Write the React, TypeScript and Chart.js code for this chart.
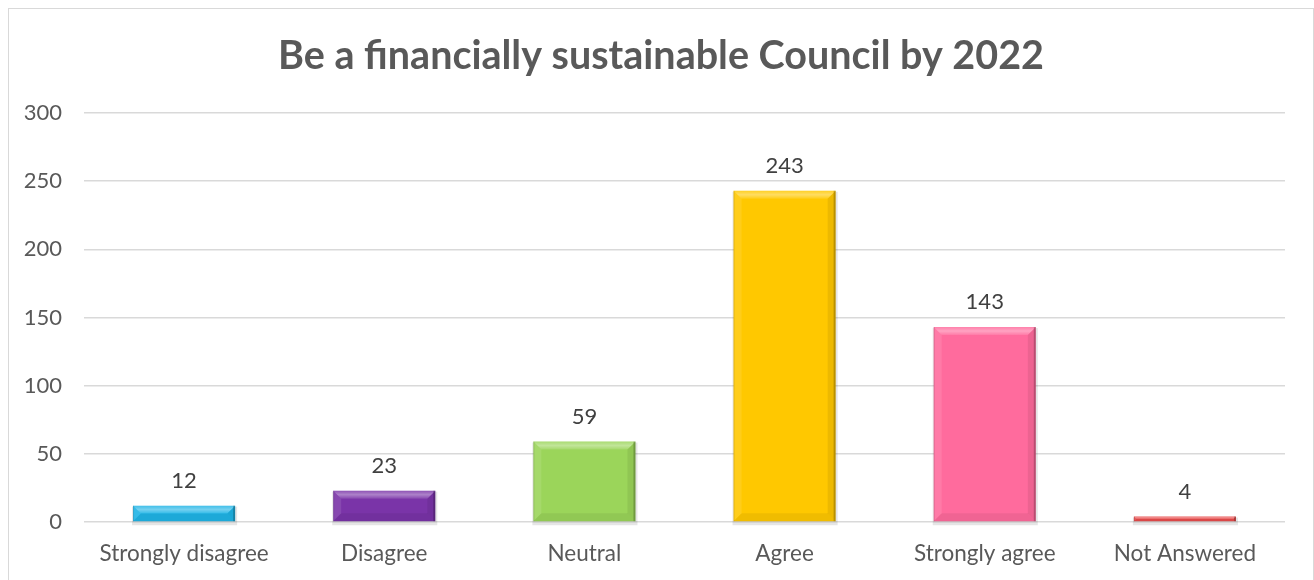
import React, { useEffect, useRef } from "react";
import { Chart, registerables } from "chart.js";

Chart.register(...registerables);

const chartTitle = "Be a financially sustainable Council by 2022";
const categories = ["Strongly disagree", "Disagree", "Neutral", "Agree", "Strongly agree", "Not Answered"];
const responses = [12, 23, 59, 243, 143, 4];
const barColors = ["#1FB4E6", "#7A34A8", "#9BD55A", "#FFC800", "#FF6B9D", "#E84C4C"];
const yMin = 0;
const yMax = 300;
const yStep = 50;

const FONT = "Lato, 'Open Sans', sans-serif";
const TEXT = "#595959";

const titlePlugin = {
  id: "centeredTitle",
  afterDraw(chart: any) {
    const ctx = chart.ctx;
    ctx.save();
    ctx.font = `bold 39.5px ${FONT}`;
    ctx.fillStyle = TEXT;
    ctx.textAlign = "center";
    ctx.textBaseline = "middle";
    ctx.fillText(chartTitle, chart.width / 2, 47.5);
    ctx.restore();
  },
};

const shadowPlugin = {
  id: "barShadow",
  beforeDatasetsDraw(chart: any) {
    const ctx = chart.ctx;
    const meta = chart.getDatasetMeta(0);
    ctx.save();
    meta.data.forEach((el: any) => {
      const { x, y, base, width } = el.getProps(["x", "y", "base", "width"], true);
      const l = x - width / 2;
      ctx.fillStyle = "rgba(0,0,0,0.10)";
      ctx.fillRect(l - 1, y + 1, width + 3, base - y + 3);
    });
    ctx.restore();
  },
};

const bevelPlugin = {
  id: "bevel",
  afterDatasetsDraw(chart: any) {
    const ctx = chart.ctx;
    const meta = chart.getDatasetMeta(0);
    ctx.save();
    meta.data.forEach((el: any) => {
      const { x, y, base, width } = el.getProps(["x", "y", "base", "width"], true);
      const l = x - width / 2;
      const r = x + width / 2;
      const t = y;
      const b = base;
      const h = b - t;
      const bv = Math.min(8, h / 2, width / 2);
      const g = ctx.createLinearGradient(0, t, 0, t + bv);
      g.addColorStop(0, "rgba(255,255,255,0.15)");
      g.addColorStop(0.5, "rgba(255,255,255,0.38)");
      g.addColorStop(1, "rgba(255,255,255,0.1)");
      ctx.fillStyle = g;
      ctx.beginPath();
      ctx.moveTo(l, t);
      ctx.lineTo(r, t);
      ctx.lineTo(r - bv, t + bv);
      ctx.lineTo(l + bv, t + bv);
      ctx.closePath();
      ctx.fill();
      ctx.fillStyle = "rgba(255,255,255,0.10)";
      ctx.beginPath();
      ctx.moveTo(l, t);
      ctx.lineTo(l + bv, t + bv);
      ctx.lineTo(l + bv, b - bv);
      ctx.lineTo(l, b);
      ctx.closePath();
      ctx.fill();
      ctx.fillStyle = "rgba(0,0,0,0.07)";
      ctx.beginPath();
      ctx.moveTo(r, t);
      ctx.lineTo(r, b);
      ctx.lineTo(r - bv, b - bv);
      ctx.lineTo(r - bv, t + bv);
      ctx.closePath();
      ctx.fill();
      ctx.fillStyle = "rgba(0,0,0,0.06)";
      ctx.beginPath();
      ctx.moveTo(l, b);
      ctx.lineTo(r, b);
      ctx.lineTo(r - bv, b - bv);
      ctx.lineTo(l + bv, b - bv);
      ctx.closePath();
      ctx.fill();
      ctx.fillStyle = "rgba(0,0,0,0.22)";
      ctx.fillRect(r - 2, t, 2, h);
      ctx.fillStyle = "rgba(0,0,0,0.12)";
      ctx.fillRect(l, t, 1, h);
    });
    ctx.restore();
  },
};

const valueLabelPlugin = {
  id: "valueLabels",
  afterDatasetsDraw(chart: any) {
    const ctx = chart.ctx;
    const meta = chart.getDatasetMeta(0);
    const data = chart.data.datasets[0].data;
    ctx.save();
    ctx.font = `22px ${FONT}`;
    ctx.fillStyle = "#404040";
    ctx.textAlign = "center";
    ctx.textBaseline = "alphabetic";
    meta.data.forEach((el: any, i: number) => {
      const { x, y } = el.getProps(["x", "y"], true);
      ctx.fillText(String(data[i]), x, y - 18);
    });
    ctx.restore();
  },
};

export default function App() {
  const canvasRef = useRef<HTMLCanvasElement | null>(null);

  useEffect(() => {
    if (!canvasRef.current) return;
    const chart = new Chart(canvasRef.current, {
      type: "bar",
      data: {
        labels: categories,
        datasets: [
          {
            label: "Responses",
            data: responses,
            backgroundColor: barColors,
            borderWidth: 0,
            barPercentage: 0.51,
            categoryPercentage: 1,
          },
        ],
      },
      options: {
        animation: false,
        responsive: true,
        maintainAspectRatio: false,
        layout: { padding: { left: 0, right: 28, top: 104, bottom: 0 } },
        plugins: {
          legend: { display: false },
          tooltip: { enabled: false },
          title: { display: false },
        },
        scales: {
          x: {
            grid: { display: false, drawTicks: false },
            border: { display: false },
            ticks: {
              color: TEXT,
              font: { family: FONT, size: 22.5 },
              padding: 18,
              maxRotation: 0,
              autoSkip: false,
            },
            afterFit: (scale: any) => {
              scale.height = 58;
            },
          },
          y: {
            min: yMin,
            max: yMax,
            grid: { color: "#D9D9D9", lineWidth: 1.5, drawTicks: false },
            border: { display: false },
            ticks: {
              stepSize: yStep,
              color: TEXT,
              font: { family: FONT, size: 22 },
              padding: 22,
            },
            afterFit: (scale: any) => {
              scale.width = 75;
            },
          },
        },
      },
      plugins: [shadowPlugin, bevelPlugin, valueLabelPlugin, titlePlugin],
    });
    return () => chart.destroy();
  }, []);

  return (
    <div
      style={{
        position: "absolute",
        left: 8,
        top: 8,
        width: 1306,
        height: 572,
        boxSizing: "border-box",
        border: "1px solid #D9D9D9",
        borderBottom: "none",
        background: "#ffffff",
      }}
    >
      <div style={{ position: "relative", width: 1304, height: 571 }}>
        <canvas ref={canvasRef} />
      </div>
    </div>
  );
}
